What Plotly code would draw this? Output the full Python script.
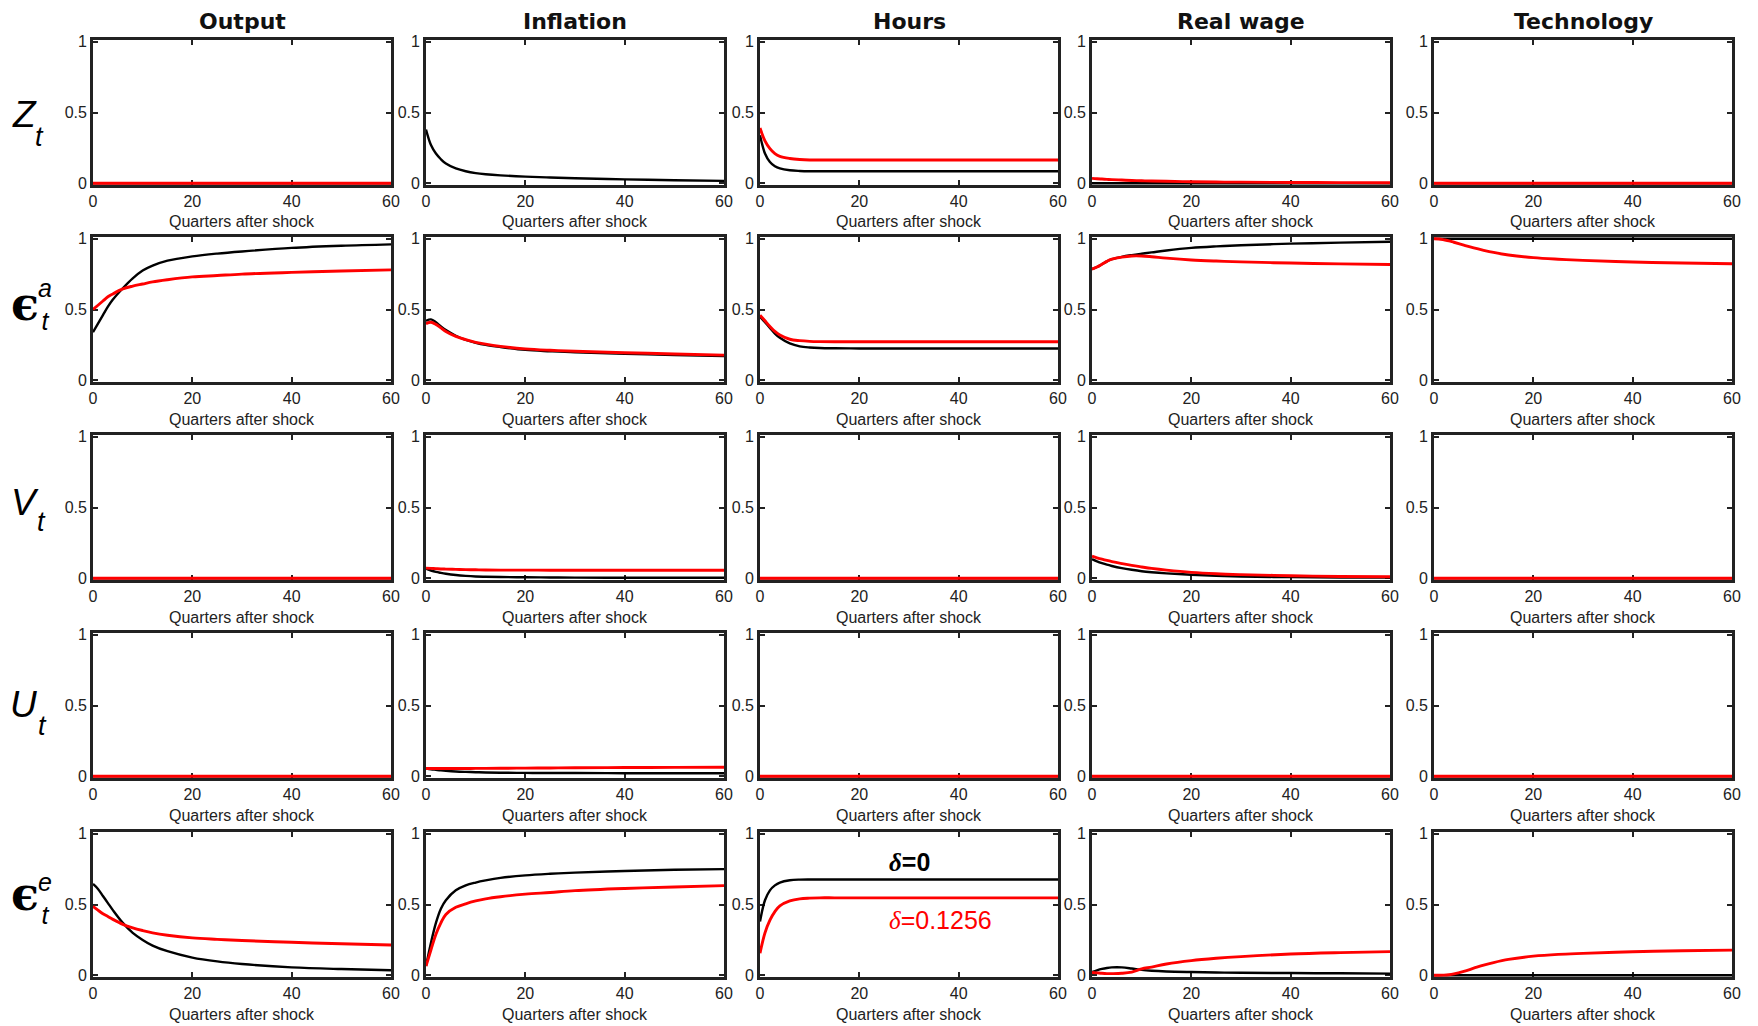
import plotly.graph_objects as go

# ---------------- data ----------------
quarters = [0, 1, 2, 3, 4, 6, 8, 10, 12, 15, 20, 25, 30, 40, 50, 60]
column_titles = ["Output", "Inflation", "Hours", "Real wage", "Technology"]
x_ticks = [0, 20, 40, 60]
y_ticks = [0, 0.5, 1]
y_tick_text = ["0", "0.5", "1"]
x_label = "Quarters after shock"
label_black = "=0"
label_red = "=0.1256"

# each row-list holds: Output, Inflation, Hours, Real wage, Technology
# black = delta 0, red = delta 0.1256 (None = not visible)
z_black = [
    [0, 0, 0, 0, 0, 0, 0, 0, 0, 0, 0, 0, 0, 0, 0, 0],
    [0.38, 0.27, 0.21, 0.17, 0.14, 0.105, 0.085, 0.072, 0.064, 0.056, 0.047, 0.041, 0.036, 0.028, 0.022, 0.017],
    [0.34, 0.21, 0.15, 0.12, 0.105, 0.092, 0.087, 0.085, 0.085, 0.085, 0.085, 0.085, 0.085, 0.085, 0.085, 0.085],
    [0, 0, 0, 0, 0, 0, 0, 0, 0, 0, 0, 0, 0, 0, 0, 0],
    [0, 0, 0, 0, 0, 0, 0, 0, 0, 0, 0, 0, 0, 0, 0, 0],
]
z_red = [
    [0, 0, 0, 0, 0, 0, 0, 0, 0, 0, 0, 0, 0, 0, 0, 0],
    None,
    [0.39, 0.30, 0.245, 0.21, 0.19, 0.175, 0.168, 0.165, 0.165, 0.165, 0.165, 0.165, 0.165, 0.165, 0.165, 0.165],
    [0.035, 0.032, 0.03, 0.028, 0.026, 0.023, 0.02, 0.018, 0.016, 0.014, 0.011, 0.009, 0.008, 0.006, 0.005, 0.004],
    [0, 0, 0, 0, 0, 0, 0, 0, 0, 0, 0, 0, 0, 0, 0, 0],
]
ea_black = [
    [0.34, 0.40, 0.46, 0.52, 0.57, 0.65, 0.72, 0.775, 0.81, 0.845, 0.875, 0.895, 0.91, 0.935, 0.95, 0.96],
    [0.42, 0.43, 0.41, 0.38, 0.355, 0.315, 0.285, 0.265, 0.25, 0.235, 0.215, 0.205, 0.197, 0.187, 0.179, 0.172],
    [0.45, 0.41, 0.37, 0.33, 0.30, 0.26, 0.24, 0.232, 0.228, 0.226, 0.225, 0.225, 0.225, 0.225, 0.225, 0.225],
    [0.785, 0.80, 0.82, 0.84, 0.855, 0.872, 0.884, 0.894, 0.903, 0.917, 0.935, 0.946, 0.954, 0.965, 0.972, 0.978],
    [1, 1, 1, 1, 1, 1, 1, 1, 1, 1, 1, 1, 1, 1, 1, 1],
]
ea_red = [
    [0.50, 0.53, 0.56, 0.59, 0.61, 0.645, 0.665, 0.68, 0.695, 0.71, 0.73, 0.74, 0.75, 0.762, 0.772, 0.78],
    [0.40, 0.41, 0.395, 0.37, 0.345, 0.31, 0.287, 0.268, 0.255, 0.24, 0.222, 0.212, 0.205, 0.195, 0.186, 0.178],
    [0.46, 0.42, 0.38, 0.345, 0.32, 0.29, 0.28, 0.275, 0.273, 0.272, 0.272, 0.272, 0.272, 0.272, 0.272, 0.272],
    [0.785, 0.80, 0.82, 0.84, 0.855, 0.87, 0.878, 0.878, 0.873, 0.863, 0.85, 0.842, 0.836, 0.828, 0.822, 0.818],
    [1.0, 0.998, 0.992, 0.985, 0.975, 0.955, 0.935, 0.918, 0.903, 0.885, 0.866, 0.855, 0.847, 0.835, 0.828, 0.823],
]
v_black = [
    [0, 0, 0, 0, 0, 0, 0, 0, 0, 0, 0, 0, 0, 0, 0, 0],
    [0.068, 0.055, 0.045, 0.038, 0.032, 0.023, 0.017, 0.013, 0.011, 0.009, 0.007, 0.006, 0.005, 0.004, 0.004, 0.004],
    [0, 0, 0, 0, 0, 0, 0, 0, 0, 0, 0, 0, 0, 0, 0, 0],
    [0.135, 0.12, 0.107, 0.096, 0.087, 0.072, 0.06, 0.05, 0.043, 0.035, 0.025, 0.018, 0.013, 0.008, 0.006, 0.005],
    [0, 0, 0, 0, 0, 0, 0, 0, 0, 0, 0, 0, 0, 0, 0, 0],
]
v_red = [
    [0, 0, 0, 0, 0, 0, 0, 0, 0, 0, 0, 0, 0, 0, 0, 0],
    [0.072, 0.07, 0.068, 0.066, 0.065, 0.063, 0.061, 0.06, 0.059, 0.058, 0.058, 0.057, 0.057, 0.057, 0.057, 0.057],
    [0, 0, 0, 0, 0, 0, 0, 0, 0, 0, 0, 0, 0, 0, 0, 0],
    [0.156, 0.145, 0.135, 0.126, 0.118, 0.104, 0.091, 0.08, 0.07, 0.058, 0.042, 0.032, 0.026, 0.018, 0.013, 0.011],
    [0, 0, 0, 0, 0, 0, 0, 0, 0, 0, 0, 0, 0, 0, 0, 0],
]
u_black = [
    [0, 0, 0, 0, 0, 0, 0, 0, 0, 0, 0, 0, 0, 0, 0, 0],
    [0.055, 0.05, 0.046, 0.042, 0.039, 0.034, 0.031, 0.029, 0.027, 0.025, 0.024, 0.023, 0.023, 0.022, 0.022, 0.022],
    [0, 0, 0, 0, 0, 0, 0, 0, 0, 0, 0, 0, 0, 0, 0, 0],
    [0, 0, 0, 0, 0, 0, 0, 0, 0, 0, 0, 0, 0, 0, 0, 0],
    [0, 0, 0, 0, 0, 0, 0, 0, 0, 0, 0, 0, 0, 0, 0, 0],
]
u_red = [
    [0, 0, 0, 0, 0, 0, 0, 0, 0, 0, 0, 0, 0, 0, 0, 0],
    [0.055, 0.055, 0.055, 0.055, 0.055, 0.055, 0.055, 0.056, 0.056, 0.057, 0.058, 0.059, 0.06, 0.062, 0.063, 0.064],
    [0, 0, 0, 0, 0, 0, 0, 0, 0, 0, 0, 0, 0, 0, 0, 0],
    [0, 0, 0, 0, 0, 0, 0, 0, 0, 0, 0, 0, 0, 0, 0, 0],
    [0, 0, 0, 0, 0, 0, 0, 0, 0, 0, 0, 0, 0, 0, 0, 0],
]
ee_black = [
    [0.645, 0.61, 0.56, 0.51, 0.46, 0.37, 0.30, 0.25, 0.21, 0.17, 0.125, 0.098, 0.08, 0.056, 0.044, 0.036],
    [0.065, 0.23, 0.37, 0.47, 0.53, 0.60, 0.635, 0.655, 0.67, 0.688, 0.706, 0.717, 0.725, 0.737, 0.745, 0.75],
    [0.38, 0.53, 0.60, 0.635, 0.655, 0.671, 0.676, 0.677, 0.677, 0.677, 0.677, 0.677, 0.677, 0.677, 0.677, 0.677],
    [0.023, 0.035, 0.045, 0.052, 0.056, 0.056, 0.048, 0.038, 0.032, 0.027, 0.023, 0.02, 0.018, 0.016, 0.014, 0.012],
    [0, 0, 0, 0, 0, 0, 0, 0, 0, 0, 0, 0, 0, 0, 0, 0],
]
ee_red = [
    [0.487, 0.46, 0.435, 0.415, 0.395, 0.36, 0.335, 0.316, 0.30, 0.283, 0.264, 0.254, 0.246, 0.233, 0.223, 0.214],
    [0.065, 0.18, 0.29, 0.37, 0.43, 0.48, 0.505, 0.525, 0.54, 0.555, 0.573, 0.585, 0.598, 0.613, 0.624, 0.633],
    [0.156, 0.30, 0.39, 0.45, 0.49, 0.525, 0.54, 0.545, 0.547, 0.547, 0.547, 0.547, 0.547, 0.547, 0.547, 0.547],
    [0.02, 0.017, 0.014, 0.012, 0.012, 0.014, 0.022, 0.045, 0.058, 0.08, 0.104, 0.12, 0.132, 0.15, 0.16, 0.167],
    [0, 0, 0.001, 0.004, 0.01, 0.028, 0.05, 0.072, 0.09, 0.112, 0.135, 0.148, 0.155, 0.166, 0.173, 0.178],
]

rows_black = [z_black, ea_black, v_black, u_black, ee_black]
rows_red = [z_red, ea_red, v_red, u_red, ee_red]

# ---------------- layout geometry (pixels) ----------------
W, H = 1758, 1026
COL_LEFT = [93, 426, 760, 1092, 1434]
ROW_TOP = [40, 237, 435, 633, 832]
PW, PH = 298, 145
AX = "#222222"
TICKFONT = "Liberation Sans, Arial, sans-serif"


def px(x):
    return x / W


def py(y):
    return 1 - y / H


fig = go.Figure()
layout = dict(
    template="none",
    width=W, height=H, autosize=False,
    margin=dict(l=0, r=0, t=0, b=0, pad=0, autoexpand=False),
    paper_bgcolor="white", plot_bgcolor="white",
    showlegend=False,
)
annotations = []

for r in range(5):
    for c in range(5):
        idx = r * 5 + c + 1
        sfx = "" if idx == 1 else str(idx)
        xa, ya = "x" + sfx, "y" + sfx
        x0, y0 = COL_LEFT[c], ROW_TOP[r]
        layout["xaxis" + sfx] = dict(
            domain=[px(x0), px(x0 + PW)], anchor=ya, range=[0, 60],
            tickvals=x_ticks, ticks="inside", ticklen=5, tickwidth=2, tickcolor=AX,
            showline=True, linewidth=2.8, linecolor=AX, mirror="ticks",
            showgrid=False, zeroline=False, layer="below traces", automargin=False,
            tickfont=dict(family=TICKFONT, size=16, color="#222"),
            fixedrange=True,
        )
        layout["yaxis" + sfx] = dict(
            domain=[py(y0 + PH), py(y0)], anchor=xa, range=[-0.012, 1.012],
            tickvals=y_ticks, ticktext=y_tick_text, ticks="inside", ticklen=5,
            tickwidth=2, tickcolor=AX,
            showline=True, linewidth=2.8, linecolor=AX, mirror="ticks",
            showgrid=False, zeroline=False, layer="below traces", automargin=False,
            tickfont=dict(family=TICKFONT, size=16, color="#222"),
            fixedrange=True,
        )
        b = rows_black[r][c]
        rd = rows_red[r][c]
        if b is not None:
            fig.add_trace(go.Scatter(x=quarters, y=b, mode="lines", xaxis=xa, yaxis=ya,
                                     line=dict(color="black", width=2.4, shape="spline"),
                                     hoverinfo="skip"))
        if rd is not None:
            fig.add_trace(go.Scatter(x=quarters, y=rd, mode="lines", xaxis=xa, yaxis=ya,
                                     line=dict(color="#ff0000", width=2.9, shape="spline"),
                                     hoverinfo="skip"))
        annotations.append(dict(
            text=x_label, x=px(x0 + PW / 2), y=py(y0 + PH + 37), xref="paper", yref="paper",
            xanchor="center", yanchor="middle", showarrow=False,
            font=dict(family=TICKFONT, size=16, color="#222")))

# column titles
for c, t in enumerate(column_titles):
    annotations.append(dict(
        text=t, x=px(COL_LEFT[c] + PW / 2), y=py(21), xref="paper", yref="paper",
        xanchor="center", yanchor="middle", showarrow=False,
        font=dict(family="DejaVu Sans", size=22, color="#111", weight="bold")))


def lab(text, x, y, size, family="Liberation Sans", italic=True, weight="normal"):
    annotations.append(dict(
        text=("<i>%s</i>" % text) if italic else text, x=px(x), y=py(y),
        xref="paper", yref="paper", xanchor="left", yanchor="middle", showarrow=False,
        borderpad=0,
        font=dict(family=family, size=size, color="black", weight=weight)))


# row labels (main symbol + subscript / stacked super+subscript)
lab("Z", 11, 114, 37)
lab("t", 34, 137, 27)
lab("\u03f5", 10, 304, 46, family="DejaVu Serif", italic=False, weight="bold")
lab("a<br>t", 37, 304, 25)
lab("V", 10, 503, 37)
lab("t", 36, 522, 27)
lab("U", 9, 704, 37)
lab("t", 37, 726, 27)
lab("\u03f5", 10, 894, 46, family="DejaVu Serif", italic=False, weight="bold")
lab("e<br>t", 37, 898, 25)

# series labels in the Hours / epsilon^e panel
annotations.append(dict(
    text="<span style='font-family:Liberation Serif'><i>\u03b4</i></span>" + label_black,
    x=px(909), y=py(862), xref="paper", yref="paper", xanchor="center", yanchor="middle",
    showarrow=False, font=dict(family="Liberation Sans", size=25, color="black", weight="bold")))
annotations.append(dict(
    text="<span style='font-family:Liberation Serif'><i>\u03b4</i></span>" + label_red,
    x=px(940), y=py(920), xref="paper", yref="paper", xanchor="center", yanchor="middle",
    showarrow=False, font=dict(family="Liberation Sans", size=25, color="#ff0000")))

layout["annotations"] = annotations
fig.update_layout(**layout)
fig.write_html("out.html",
               config={"displayModeBar": False, "responsive": False},
               post_script="document.body.style.margin='0px';document.body.style.overflow='hidden';")
